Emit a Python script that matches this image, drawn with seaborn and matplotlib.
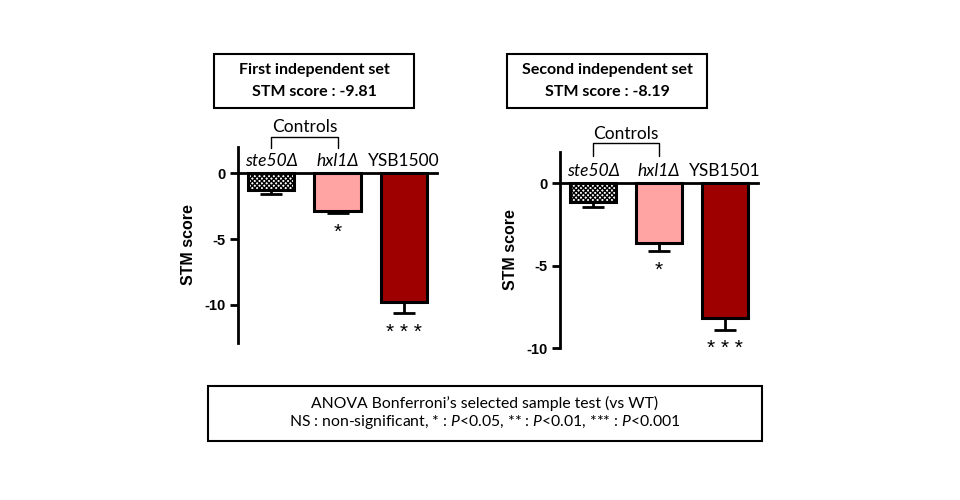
import matplotlib
matplotlib.use("Agg")
import matplotlib.pyplot as plt
import seaborn as sns
import pandas as pd
from matplotlib.patches import Rectangle

# Data
strains_1 = ["ste50Δ", "hxl1Δ", "YSB1500"]
scores_1 = [-1.25, -2.85, -9.81]
errors_1 = [0.35, 0.2, 0.8]
stars_1 = ["", "*", "* * *"]

strains_2 = ["ste50Δ", "hxl1Δ", "YSB1501"]
scores_2 = [-1.15, -3.6, -8.19]
errors_2 = [0.3, 0.5, 0.7]
stars_2 = ["", "*", "* * *"]

italic_labels = [True, True, False]
bar_colors = ["white", "#FFA3A3", "#9E0000"]
yticks = [0, -5, -10]

titles = [("First independent set", "STM score : -9.81"),
          ("Second independent set", "STM score : -8.19")]
footer = ["ANOVA Bonferroni\u2019s selected sample test (vs WT)",
          r"NS : non-significant, * : $\mathit{P}$<0.05, ** : $\mathit{P}$<0.01, *** : $\mathit{P}$<0.001"]

sns.set_style("ticks")
plt.rcParams["font.family"] = ["Lato", "DejaVu Sans"]
plt.rcParams["mathtext.fontset"] = "custom"
plt.rcParams["mathtext.rm"] = "Lato"
plt.rcParams["mathtext.it"] = "Lato:italic"
plt.rcParams["hatch.linewidth"] = 1.0
for key in ["text.color", "axes.labelcolor", "xtick.color", "ytick.color", "axes.edgecolor"]:
    plt.rcParams[key] = "black"

W, H = 960, 500
fig = plt.figure(figsize=(9.6, 5), dpi=100)


def px_axes(left, right, top, bottom):
    return fig.add_axes([left / W, 1 - bottom / H, (right - left) / W, (bottom - top) / H])


def draw_panel(ax, strains, scores, errors, stars, ylim, br_low, br_high, ctrl_y):
    df = pd.DataFrame({"strain": strains, "score": scores})
    sns.barplot(data=df, x="strain", y="score", hue="strain", palette=bar_colors,
                saturation=1, edgecolor="black", linewidth=2.2, width=0.7,
                errorbar=None, legend=False, ax=ax)
    ax.patches[0].set_hatch("xxxxxxx")
    ax.errorbar(range(len(scores)), scores, yerr=[errors, [0] * len(errors)],
                fmt="none", ecolor="black", elinewidth=2, capsize=8, capthick=2)
    for i, (s, e, st) in enumerate(zip(scores, errors, stars)):
        if st:
            ax.annotate(st, (i, s - e), xytext=(0, -7), textcoords="offset points",
                        ha="center", va="top", fontsize=15,
                        family="Liberation Sans")

    ax.set_xlim(-0.5, len(strains) - 0.5)
    ax.set_ylim(*ylim)
    ax.set_yticks(yticks)
    ax.set_yticklabels([str(t) for t in yticks], fontsize=10.5, fontweight="bold",
                       family="Liberation Sans")
    ax.set_xlabel("")
    ax.set_ylabel("STM score", fontsize=11.5, fontweight="bold",
                  family="Liberation Sans", labelpad=6)

    ax.spines["bottom"].set_visible(False)
    ax.spines["right"].set_visible(False)
    ax.spines["top"].set_position(("data", 0))
    ax.spines["top"].set_linewidth(2)
    ax.spines["left"].set_linewidth(2)
    ax.xaxis.set_ticks_position("top")
    ax.tick_params(axis="x", length=0, pad=3, labelsize=12.5)
    ax.tick_params(axis="y", length=6, width=2, pad=3)
    for lbl, it in zip(ax.get_xticklabels(), italic_labels):
        lbl.set_fontstyle("italic" if it else "normal")

    # "Controls" bracket over the first two strains
    tr = ax.get_xaxis_transform()
    ax.plot([0, 0, 1, 1], [br_low, br_high, br_high, br_low], color="black",
            lw=1, transform=tr, clip_on=False)
    ax.text(0.5, ctrl_y, "Controls", transform=tr, ha="center", va="center",
            fontsize=12.5)


ax1 = px_axes(238, 437, 147, 343)
draw_panel(ax1, strains_1, scores_1, errors_1, stars_1, (-12.9, 2.0), 0.995, 1.051, 1.1)

ax2 = px_axes(560, 758, 152, 348)
draw_panel(ax2, strains_2, scores_2, errors_2, stars_2, (-10.0, 1.9), 0.98, 1.046, 1.09)


def boxed_text(x0, x1, y0, y1, lines, line_y, weight, size):
    fig.add_artist(Rectangle((x0 / W, 1 - y1 / H), (x1 - x0) / W, (y1 - y0) / H,
                             transform=fig.transFigure, fill=False, lw=1.5,
                             edgecolor="black"))
    for txt, ly in zip(lines, line_y):
        fig.text((x0 + x1) / 2 / W, 1 - ly / H, txt, ha="center", va="center",
                 fontsize=size, fontweight=weight)


boxed_text(214, 414, 54, 108, titles[0], [70, 92], "bold", 11.5)
boxed_text(507, 707, 54, 108, titles[1], [70, 92], "bold", 11.5)
boxed_text(208, 762, 386, 441, footer, [403, 422], "normal", 11.3)

fig.savefig("out.png", dpi=100)
